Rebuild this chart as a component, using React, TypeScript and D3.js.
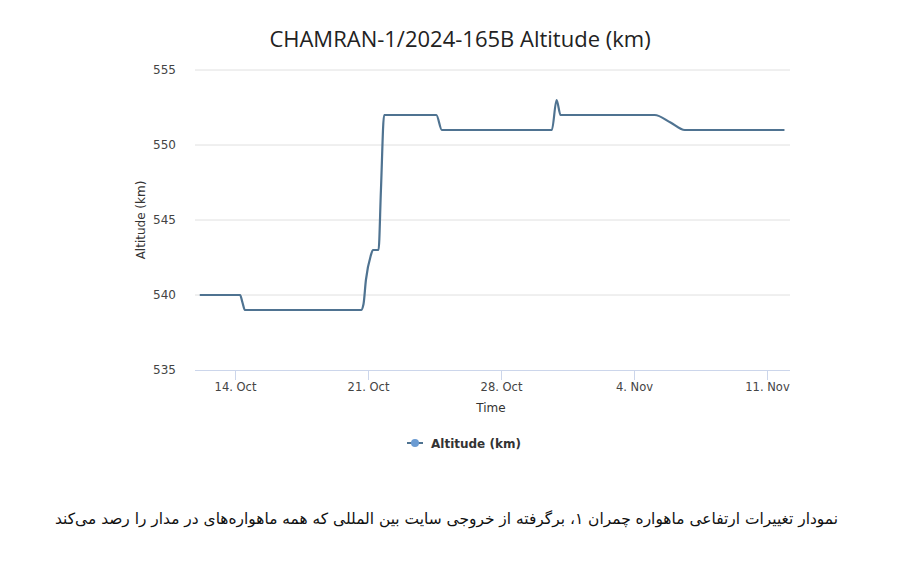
import React, { useEffect, useRef } from "react";
import * as d3 from "d3";

const title = "CHAMRAN-1/2024-165B Altitude (km)";
const seriesName = "Altitude (km)";
const caption = "نمودار تغییرات ارتفاعی ماهواره چمران ۱، برگرفته از خروجی سایت بین المللی که همه ماهواره‌های در مدار را رصد می‌کند";

const times: string[] = [
  "2024-10-12T03:00", "2024-10-14T06:00", "2024-10-14T09:00", "2024-10-14T12:00",
  "2024-10-20T15:00", "2024-10-20T18:00", "2024-10-20T21:00", "2024-10-21T03:00",
  "2024-10-21T06:00", "2024-10-21T13:00", "2024-10-21T16:00", "2024-10-21T20:00",
  "2024-10-24T14:00", "2024-10-24T21:00", "2024-10-30T16:00", "2024-10-30T22:00",
  "2024-10-31T03:00", "2024-11-05T02:00", "2024-11-05T22:00", "2024-11-06T16:00",
  "2024-11-11T22:00",
];
const altitudes: number[] = [
  540, 540, 539.5, 539,
  539, 539.4, 541, 542.6,
  543, 543, 547, 552,
  552, 551, 551, 553,
  552, 552, 551.5, 551,
  551,
];
const yTicks: number[] = [535, 540, 545, 550, 555];
const xTickDates: string[] = ["2024-10-14", "2024-10-21", "2024-10-28", "2024-11-04", "2024-11-11"];
const xTickLabels: string[] = ["14. Oct", "21. Oct", "28. Oct", "4. Nov", "11. Nov"];

export default function App() {
  const ref = useRef<SVGSVGElement>(null);
  useEffect(() => {
    const svg = d3.select(ref.current);
    svg.selectAll("*").remove();
    const W = 898, H = 561;
    const left = 195, right = 790, top = 70, bottom = 370;
    const font = "'DejaVu Sans', sans-serif";
    const titleFont = "'Open Sans', sans-serif";
    svg.append("rect").attr("width", W).attr("height", H).attr("fill", "#fff");

    const parse = (s: string) => new Date(s + (s.length === 10 ? "T00:00" : "") + ":00Z");
    const x = d3.scaleUtc()
      .domain([parse("2024-10-11T21:00"), parse("2024-11-12T05:00")])
      .range([left, right]);
    const y = d3.scaleLinear().domain([535, 555]).range([bottom, top]);

    // grid
    svg.append("g").selectAll("line").data(yTicks.slice(1)).join("line")
      .attr("x1", left).attr("x2", right)
      .attr("y1", d => y(d)).attr("y2", d => y(d))
      .attr("stroke", "#e0e0e0").attr("stroke-width", 1);
    // x axis line
    svg.append("line").attr("x1", left).attr("x2", right)
      .attr("y1", bottom + 0.5).attr("y2", bottom + 0.5)
      .attr("stroke", "#ccd6eb");
    // y labels
    svg.append("g").selectAll("text").data(yTicks).join("text")
      .attr("x", 176).attr("y", d => y(d) + 4)
      .attr("text-anchor", "end").attr("font-family", font).attr("font-size", 12)
      .attr("fill", "#444").text(d => String(d));
    // x ticks
    const xt = svg.append("g");
    xTickDates.forEach((d, i) => {
      const px = Math.round(x(parse(d))) + 0.5;
      xt.append("line").attr("x1", px).attr("x2", px).attr("y1", bottom).attr("y2", bottom + 10)
        .attr("stroke", "#ccd6eb");
      xt.append("text").attr("x", px).attr("y", bottom + 21)
        .attr("text-anchor", "middle").attr("font-family", font).attr("font-size", 11.5)
        .attr("fill", "#444").text(xTickLabels[i]);
    });
    // axis titles
    svg.append("text").attr("x", 491).attr("y", 412)
      .attr("text-anchor", "middle").attr("font-family", font).attr("font-size", 12)
      .attr("fill", "#333").text("Time");
    svg.append("text").attr("transform", `translate(145,${(top + bottom) / 2}) rotate(-90)`)
      .attr("text-anchor", "middle").attr("font-family", font).attr("font-size", 12)
      .attr("fill", "#333").text("Altitude (km)");
    // title
    svg.append("text").attr("x", 460).attr("y", 47)
      .attr("text-anchor", "middle").attr("font-family", titleFont).attr("font-size", 22)
      .attr("fill", "#222").text(title);

    // line
    const data = times.map((t, i) => ({ t: parse(t), v: altitudes[i] }));
    const line = d3.line<{ t: Date; v: number }>()
      .x(d => x(d.t)).y(d => y(d.v)).curve(d3.curveMonotoneX);
    svg.append("path").datum(data).attr("d", line)
      .attr("fill", "none").attr("stroke", "#4f7391").attr("stroke-width", 2.2)
      .attr("stroke-linejoin", "round");

    // legend
    const lg = svg.append("g");
    lg.append("line").attr("x1", 407).attr("x2", 423).attr("y1", 443).attr("y2", 443)
      .attr("stroke", "#4f7391").attr("stroke-width", 2);
    lg.append("circle").attr("cx", 415).attr("cy", 443).attr("r", 4)
      .attr("fill", "#6b9bd2");
    lg.append("text").attr("x", 431).attr("y", 447.5)
      .attr("font-family", font).attr("font-size", 12).attr("font-weight", "bold")
      .attr("fill", "#333").text(seriesName);

    // caption
    svg.append("text").attr("x", 838).attr("y", 524)
      .attr("text-anchor", "start").attr("direction", "rtl")
      .attr("font-family", font).attr("font-size", 15.5)
      .attr("textLength", 783).attr("lengthAdjust", "spacingAndGlyphs")
      .attr("fill", "#111").text(caption);
  }, []);
  return (
    <svg ref={ref} width={898} height={561}
      style={{ position: "absolute", left: 0, top: 0, display: "block" }} />
  );
}
